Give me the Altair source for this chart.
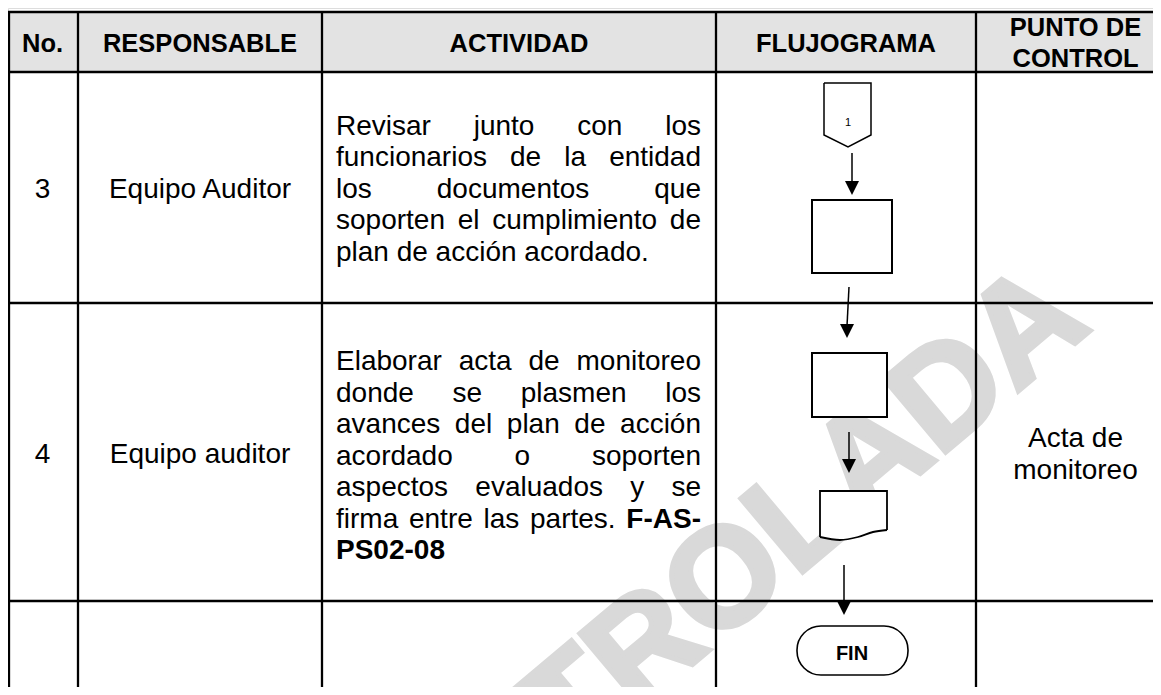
import altair as alt
import pandas as pd

# ---------------- content ----------------
header_labels = ["No.", "RESPONSABLE", "ACTIVIDAD", "FLUJOGRAMA", "PUNTO DE|CONTROL"]
step_numbers = ["3", "4"]
responsables = ["Equipo Auditor", "Equipo auditor"]
actividades = [
    ["Revisar junto con los",
     "funcionarios de la entidad",
     "los documentos que",
     "soporten el cumplimiento de",
     "plan de acción acordado."],
    ["Elaborar acta de monitoreo",
     "donde se plasmen los",
     "avances del plan de acción",
     "acordado o soporten",
     "aspectos evaluados y se",
     "firma entre las partes. F-AS-",
     "PS02-08"],
]
bold_codes = ["F-AS-", "PS02-08"]
puntos_control = ["", "Acta de|monitoreo"]
connector_label = "1"
end_label = "FIN"
watermark_text = "CONTROLADA"

# ---------------- layout (pixel positions of the page) ----------------
FONT = "Liberation Sans"
FS, HFS, LS = 28, 25.5, 31.5
COL = [7, 78, 322, 716, 976, 1175]
ROW = [12, 72, 303, 601]
row_text_y = [187.5, 453]
act_text_y = [187.5, 454.5]
ACT_LEFT, ACT_RIGHT = 336, 701

REG = dict(zip("abcdefghijklmnopqrstuvwxyz",
               [556, 556, 500, 556, 556, 278, 556, 556, 222, 222, 500, 222, 833,
                556, 556, 556, 556, 333, 500, 278, 556, 500, 722, 500, 500, 500]))
REG.update(dict(zip("ABCDEFGHIJKLMNOPQRSTUVWXYZ",
                    [667, 667, 722, 722, 667, 611, 778, 722, 278, 500, 667, 556, 833,
                     722, 778, 667, 778, 722, 667, 611, 722, 667, 944, 667, 667, 611])))
REG.update({" ": 278, ".": 278, ",": 278, "-": 333, "ó": 556})
BOLD = dict(zip("ABCDEFGHIJKLMNOPQRSTUVWXYZ",
                [722, 722, 722, 722, 667, 611, 778, 722, 278, 556, 722, 611, 833,
                 722, 778, 667, 778, 722, 667, 611, 722, 667, 944, 667, 667, 611]))
BOLD.update({c: 556 for c in "0123456789"})
BOLD.update({"-": 333, ".": 278, " ": 278})


def tw(s, bold, fs):
    t = BOLD if bold else REG
    return sum(t.get(c, 556) for c in s) * fs / 1000.0


def X(f):
    return alt.X(f, type="quantitative", axis=None,
                 scale=alt.Scale(domain=[8, 1153], nice=False, zero=False))


def Y(f):
    return alt.Y(f, type="quantitative", axis=None,
                 scale=alt.Scale(domain=[8, 687], nice=False, zero=False, reverse=True))


centers = [(COL[i] + COL[i + 1]) / 2 for i in range(5)]

# header texts
hdr = []
for i, lab in enumerate(header_labels):
    parts = lab.split("|")
    for j, p in enumerate(parts):
        yc = 42.5 + (j - (len(parts) - 1) / 2) * 31
        hdr.append(dict(x=centers[i], y=yc + 0.36 * HFS, t=p))
hdr = pd.DataFrame(hdr)

# centred body texts
body = []
for r in range(2):
    for col, val in ((0, step_numbers[r]), (1, responsables[r]), (4, puntos_control[r])):
        parts = [p for p in val.split("|") if p]
        for j, p in enumerate(parts):
            yc = row_text_y[r] + (j - (len(parts) - 1) / 2) * 32.5
            body.append(dict(x=centers[col], y=yc + 0.36 * FS, t=p))
body = pd.DataFrame(body)

# justified activity words
words = []
for r, lines in enumerate(actividades):
    n = len(lines)
    for i, line in enumerate(lines):
        yc = act_text_y[r] + (i - (n - 1) / 2) * LS
        ws = line.split(" ")
        wid = [tw(w, w in bold_codes, FS) for w in ws]
        last_line = (i == n - 1)
        if last_line or len(ws) == 1:
            gap = tw(" ", False, FS)
        else:
            gap = (ACT_RIGHT - ACT_LEFT - sum(wid)) / (len(ws) - 1)
        x = ACT_LEFT
        for k, (w, wd) in enumerate(zip(ws, wid)):
            right_end = (not last_line) and len(ws) > 1 and k == len(ws) - 1
            words.append(dict(x=ACT_RIGHT if right_end else x, y=yc + 0.36 * FS, t=w,
                              bold=w in bold_codes, al="right" if right_end else "left"))
            x += wd + gap
words = pd.DataFrame(words)

# grid lines
grid = []
for y in ROW:
    grid.append(dict(x=8, y=y, x2=1175, y2=y))
for x in [9] + COL[1:5]:
    grid.append(dict(x=x, y=12, x2=x, y2=760))
grid = pd.DataFrame(grid)

header_fill = pd.DataFrame([dict(x=8, x2=1175, y=12, y2=72)])
boxes = pd.DataFrame([dict(x=812, x2=892, y=200, y2=273),
                      dict(x=812, x2=887, y=353, y2=417)])
fin_box = pd.DataFrame([dict(x=797, x2=908, y=626, y2=675)])

pent_fill = pd.DataFrame([dict(x=824, y=83, y2=135), dict(x=848, y=83, y2=147),
                          dict(x=871, y=83, y2=135)])
pent_line = pd.DataFrame([dict(x=a, y=b, i=k) for k, (a, b) in enumerate(
    [(824, 83), (871, 83), (871, 135), (848, 147), (824, 135), (824, 83)])])

wave = [(820, 537), (840, 540), (858, 537), (873, 532), (887, 530)]
doc_fill = pd.DataFrame([dict(x=a, y=491, y2=b) for a, b in wave])
doc_wave = pd.DataFrame([dict(x=a, y=b) for a, b in wave])
doc_side = pd.DataFrame([dict(x=a, y=b, i=k) for k, (a, b) in enumerate(
    [(820, 537), (820, 491), (887, 491), (887, 530)])])

arrows = [(852, 153, 852, 195), (849, 287, 847, 338), (849, 432, 849, 473), (844, 565, 844, 615)]
arrow_lines = pd.DataFrame([dict(x=a, y=b, x2=c, y2=d - 12) for a, b, c, d in arrows])
arrow_heads = pd.DataFrame([dict(x=c, y=d - 7) for a, b, c, d in arrows])

flow_text = pd.DataFrame([dict(x=848, y=122 + 0.36 * 11, t=connector_label)])
fin_text = pd.DataFrame([dict(x=852, y=653 + 0.36 * 20, t=end_label)])
wm = pd.DataFrame([dict(x=685, y=616, t=watermark_text)])

layers = [
    alt.Chart(header_fill).mark_rect(color="#e3e3e3").encode(
        x=X("x"), x2="x2", y=Y("y"), y2="y2"),
    alt.Chart(wm).mark_text(font=FONT, fontWeight="bold", fontSize=140, angle=320,
                            align="center", baseline="middle", color="#d9d9d9",
                            stroke="#d9d9d9", strokeWidth=5).encode(
        x=X("x"), y=Y("y"), text="t:N"),
    alt.Chart(grid).mark_rule(color="black", strokeWidth=2.3).encode(
        x=X("x"), x2="x2", y=Y("y"), y2="y2"),
    alt.Chart(pent_fill).mark_area(color="white", opacity=1).encode(
        x=X("x"), y=Y("y"), y2="y2"),
    alt.Chart(pent_line).mark_line(color="black", strokeWidth=1.5).encode(
        x=X("x"), y=Y("y"), order="i:Q"),
    alt.Chart(boxes).mark_rect(fill="white", stroke="black", strokeWidth=2).encode(
        x=X("x"), x2="x2", y=Y("y"), y2="y2"),
    alt.Chart(doc_fill).mark_area(color="white", opacity=1, interpolate="monotone").encode(
        x=X("x"), y=Y("y"), y2="y2"),
    alt.Chart(doc_side).mark_line(color="black", strokeWidth=1.8).encode(
        x=X("x"), y=Y("y"), order="i:Q"),
    alt.Chart(doc_wave).mark_line(color="black", strokeWidth=1.8, interpolate="monotone").encode(
        x=X("x"), y=Y("y")),
    alt.Chart(fin_box).mark_rect(fill="white", stroke="black", strokeWidth=1.6,
                                 cornerRadius=24).encode(
        x=X("x"), x2="x2", y=Y("y"), y2="y2"),
    alt.Chart(arrow_lines).mark_rule(color="black", strokeWidth=1.5).encode(
        x=X("x"), x2="x2", y=Y("y"), y2="y2"),
    alt.Chart(arrow_heads).mark_point(shape="M -1 -1 L 1 -1 L 0 1 Z", filled=True, size=196,
                                      color="black", opacity=1, strokeWidth=0).encode(
        x=X("x"), y=Y("y")),
    alt.Chart(hdr).mark_text(font=FONT, fontWeight="bold", fontSize=HFS, align="center",
                             baseline="alphabetic", color="black").encode(
        x=X("x"), y=Y("y"), text="t:N"),
    alt.Chart(body).mark_text(font=FONT, fontSize=FS, align="center",
                              baseline="alphabetic", color="black").encode(
        x=X("x"), y=Y("y"), text="t:N"),
    alt.Chart(flow_text).mark_text(font=FONT, fontSize=11, align="center",
                                   baseline="alphabetic", color="black").encode(
        x=X("x"), y=Y("y"), text="t:N"),
    alt.Chart(fin_text).mark_text(font=FONT, fontWeight="bold", fontSize=20, align="center",
                                  baseline="alphabetic", color="black").encode(
        x=X("x"), y=Y("y"), text="t:N"),
]

for bold in (False, True):
    for al in ("left", "right"):
        sub = words[(words["bold"] == bold) & (words["al"] == al)]
        if len(sub) == 0:
            continue
        layers.append(
            alt.Chart(sub).mark_text(font=FONT, fontSize=FS, align=al,
                                     fontWeight="bold" if bold else "normal",
                                     baseline="alphabetic", color="black").encode(
                x=X("x"), y=Y("y"), text="t:N"))

chart = alt.layer(*layers).properties(
    width=1145, height=679, padding=0,
    autosize=alt.AutoSizeParams(type="none"),
).configure_view(strokeWidth=0).configure(background="white")

chart.save("out.html", embed_options={"renderer": "svg", "actions": False})
